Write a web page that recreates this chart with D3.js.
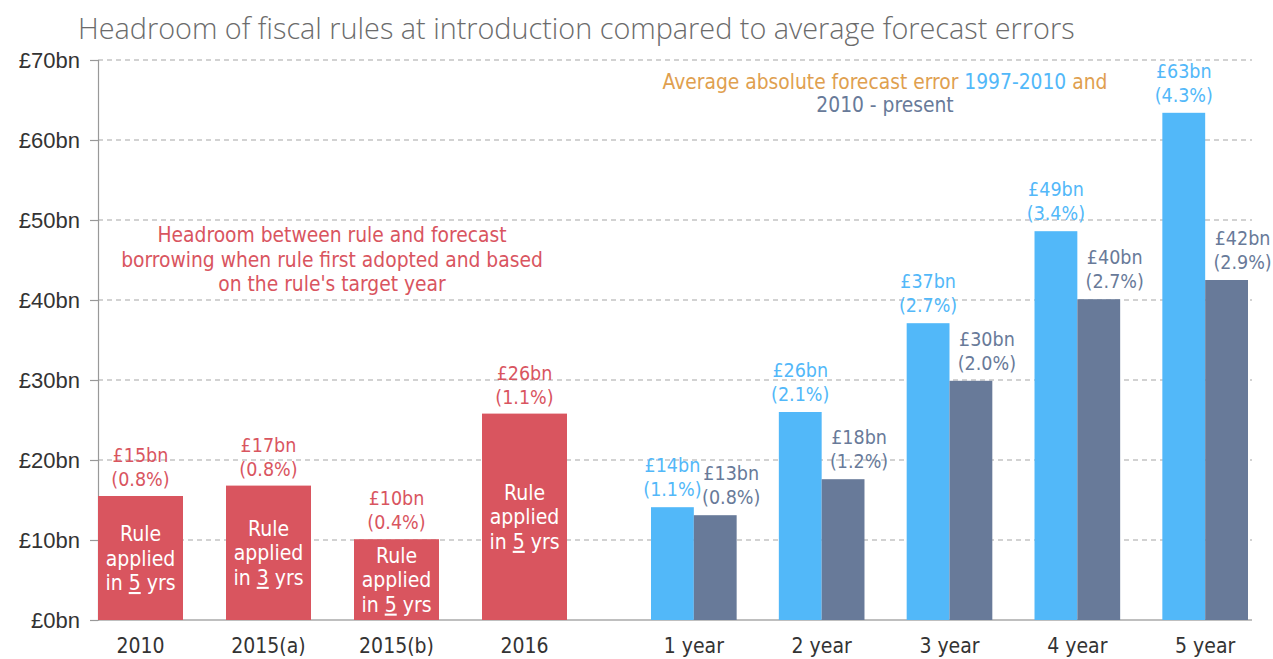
<!DOCTYPE html>
<html>
<head>
<meta charset="utf-8">
<script src="https://cdn.jsdelivr.net/npm/d3@7"></script>
<style>
  body { margin: 0; background: #fff; }
  svg { display: block; }
</style>
</head>
<body>
<script>
// Chart data
const ruleYears = ["2010", "2015(a)", "2015(b)", "2016"];
const ruleHeadroom = [15.5, 16.8, 10.1, 25.8];
const ruleLabels = ["£15bn", "£17bn", "£10bn", "£26bn"];
const rulePct = ["(0.8%)", "(0.8%)", "(0.4%)", "(1.1%)"];
const ruleHorizon = ["5", "3", "5", "5"];

const horizons = ["1 year", "2 year", "3 year", "4 year", "5 year"];
const seriesNames = ["1997-2010", "2010 - present"];
const errorsPre = [14.1, 26.0, 37.1, 48.6, 63.4];
const errorsPost = [13.1, 17.6, 29.9, 40.1, 42.5];
const preLabels = ["£14bn", "£26bn", "£37bn", "£49bn", "£63bn"];
const prePct = ["(1.1%)", "(2.1%)", "(2.7%)", "(3.4%)", "(4.3%)"];
const postLabels = ["£13bn", "£18bn", "£30bn", "£40bn", "£42bn"];
const postPct = ["(0.8%)", "(1.2%)", "(2.0%)", "(2.7%)", "(2.9%)"];

const yTicks = [0, 10, 20, 30, 40, 50, 60, 70];

const red = "#d9555f", blue = "#52b8f9", slate = "#687a99", orange = "#dfa04f";
const labelFont = "'DejaVu Sans Condensed', 'DejaVu Sans', sans-serif";

// Dimensions
const W = 1273, H = 659;
const margin = { top: 60, right: 21, bottom: 39, left: 98 };
const width = W - margin.left - margin.right;
const height = H - margin.top - margin.bottom;

const svg = d3.select("body")
  .append("svg")
  .attr("width", W)
  .attr("height", H);

const g = svg.append("g")
  .attr("transform", `translate(${margin.left},${margin.top})`);

// Scales
const y = d3.scaleLinear().domain([0, 70]).range([height, 0]);
const xLeft = d3.scaleBand().domain(ruleYears).range([0, 469]).paddingInner(0.336).paddingOuter(0);
const xRight = d3.scaleBand().domain(horizons).range([553, width - 4]).paddingInner(0.33).paddingOuter(0);
const xSub = d3.scaleBand().domain(seriesNames).range([0, xRight.bandwidth()]);

// Title
svg.append("text")
  .attr("x", 78)
  .attr("y", 39)
  .attr("font-family", "'Open Sans', sans-serif")
  .attr("font-weight", 300)
  .attr("font-size", 28.8)
  .attr("fill", "#6b6b6b")
  .text("Headroom of fiscal rules at introduction compared to average forecast errors");

// Gridlines
g.selectAll(".grid")
  .data(yTicks.filter(d => d > 0))
  .enter().append("line")
  .attr("x1", 0)
  .attr("x2", width)
  .attr("y1", d => y(d))
  .attr("y2", d => y(d))
  .attr("stroke", "#c4c4c4")
  .attr("stroke-width", 1.5)
  .attr("stroke-dasharray", "5,4");

// Y axis
const yAxis = g.append("g")
  .call(d3.axisLeft(y).tickValues(yTicks).tickSize(8).tickPadding(10).tickFormat(d => `£${d}bn`));
yAxis.select(".domain").attr("stroke", "#999").attr("stroke-width", 1.2);
yAxis.selectAll(".tick line").attr("stroke", "#999").attr("stroke-width", 1.2);
yAxis.selectAll(".tick text")
  .attr("font-family", "'Liberation Sans Narrow', 'Liberation Sans', sans-serif")
  .attr("font-size", 22)
  .attr("fill", "#333");

// Baseline
g.append("line")
  .attr("x1", 0)
  .attr("x2", width)
  .attr("y1", y(0))
  .attr("y2", y(0))
  .attr("stroke", "#aaa")
  .attr("stroke-width", 1.5);

// Red bars: headroom of fiscal rules
const ruleData = ruleYears.map((d, i) => ({
  cat: d, value: ruleHeadroom[i], label: ruleLabels[i], pct: rulePct[i], yrs: ruleHorizon[i]
}));

g.selectAll(".rule")
  .data(ruleData)
  .enter().append("rect")
  .attr("x", d => xLeft(d.cat))
  .attr("y", d => y(d.value))
  .attr("width", xLeft.bandwidth())
  .attr("height", d => y(0) - y(d.value))
  .attr("fill", red);

// Value labels above red bars
ruleData.forEach(d => {
  const t = g.append("text")
    .attr("text-anchor", "middle")
    .attr("font-family", labelFont)
    .attr("font-size", 19.5)
    .attr("fill", red);
  t.append("tspan").attr("x", xLeft(d.cat) + xLeft.bandwidth() / 2).attr("y", y(d.value) - 34).text(d.label);
  t.append("tspan").attr("x", xLeft(d.cat) + xLeft.bandwidth() / 2).attr("y", y(d.value) - 10).text(d.pct);

  // Text inside bar
  const cx = xLeft(d.cat) + xLeft.bandwidth() / 2;
  const cy = (y(d.value) + y(0)) / 2;
  const inner = g.append("text")
    .attr("text-anchor", "middle")
    .attr("font-family", labelFont)
    .attr("font-size", 21)
    .attr("fill", "#fff");
  inner.append("tspan").attr("x", cx).attr("y", cy - 17).text("Rule");
  inner.append("tspan").attr("x", cx).attr("y", cy + 7.5).text("applied");
  const l3 = inner.append("tspan").attr("x", cx).attr("y", cy + 32);
  l3.append("tspan").text("in ");
  l3.append("tspan").style("text-decoration", "underline").text(d.yrs);
  l3.append("tspan").text(" yrs");
});

// Annotation for red bars
const note = g.append("text")
  .attr("text-anchor", "middle")
  .attr("font-family", labelFont)
  .attr("font-size", 20.8)
  .attr("fill", red);
["Headroom between rule and forecast",
 "borrowing when rule first adopted and based",
 "on the rule's target year"].forEach((line, i) => {
  note.append("tspan").attr("x", 234).attr("y", 182 + i * 24.5).text(line);
});

// Forecast error bars
const errData = horizons.map((d, i) => ([
  { cat: d, series: seriesNames[0], value: errorsPre[i], label: preLabels[i], pct: prePct[i], color: blue, dx: 0 },
  { cat: d, series: seriesNames[1], value: errorsPost[i], label: postLabels[i], pct: postPct[i], color: slate, dx: 16 }
]));

const groups = g.selectAll(".horizon")
  .data(errData)
  .enter().append("g")
  .attr("transform", d => `translate(${xRight(d[0].cat)},0)`);

groups.selectAll("rect")
  .data(d => d)
  .enter().append("rect")
  .attr("x", d => xSub(d.series))
  .attr("y", d => y(d.value))
  .attr("width", xSub.bandwidth())
  .attr("height", d => y(0) - y(d.value))
  .attr("fill", d => d.color);

groups.selectAll(".val")
  .data(d => d)
  .enter().append("text")
  .attr("text-anchor", "middle")
  .attr("font-family", labelFont)
  .attr("font-size", 19.5)
  .attr("fill", d => d.color)
  .each(function (d) {
    const cx = xSub(d.series) + xSub.bandwidth() / 2 + d.dx;
    d3.select(this).append("tspan").attr("x", cx).attr("y", y(d.value) - 35).text(d.label);
    d3.select(this).append("tspan").attr("x", cx).attr("y", y(d.value) - 11).text(d.pct);
  });

// Legend text
const legend = g.append("text")
  .attr("text-anchor", "middle")
  .attr("font-family", labelFont)
  .attr("font-size", 20.8)
  .attr("fill", orange);
const lg1 = legend.append("tspan").attr("x", 787).attr("y", 29);
lg1.append("tspan").text("Average absolute forecast error ");
lg1.append("tspan").attr("fill", blue).text(seriesNames[0]);
lg1.append("tspan").text(" and");
legend.append("tspan").attr("x", 787).attr("y", 52).attr("fill", slate).text(seriesNames[1]);

// X labels
const xLabelY = height + 33;
g.selectAll(".xl1")
  .data(ruleYears)
  .enter().append("text")
  .attr("x", d => xLeft(d) + xLeft.bandwidth() / 2)
  .attr("y", xLabelY)
  .attr("text-anchor", "middle")
  .attr("font-family", labelFont)
  .attr("font-size", 21)
  .attr("fill", "#333")
  .text(d => d);

g.selectAll(".xl2")
  .data(horizons)
  .enter().append("text")
  .attr("x", d => xRight(d) + xRight.bandwidth() / 2)
  .attr("y", xLabelY)
  .attr("text-anchor", "middle")
  .attr("font-family", labelFont)
  .attr("font-size", 21)
  .attr("fill", "#333")
  .text(d => d);
</script>
</body>
</html>
